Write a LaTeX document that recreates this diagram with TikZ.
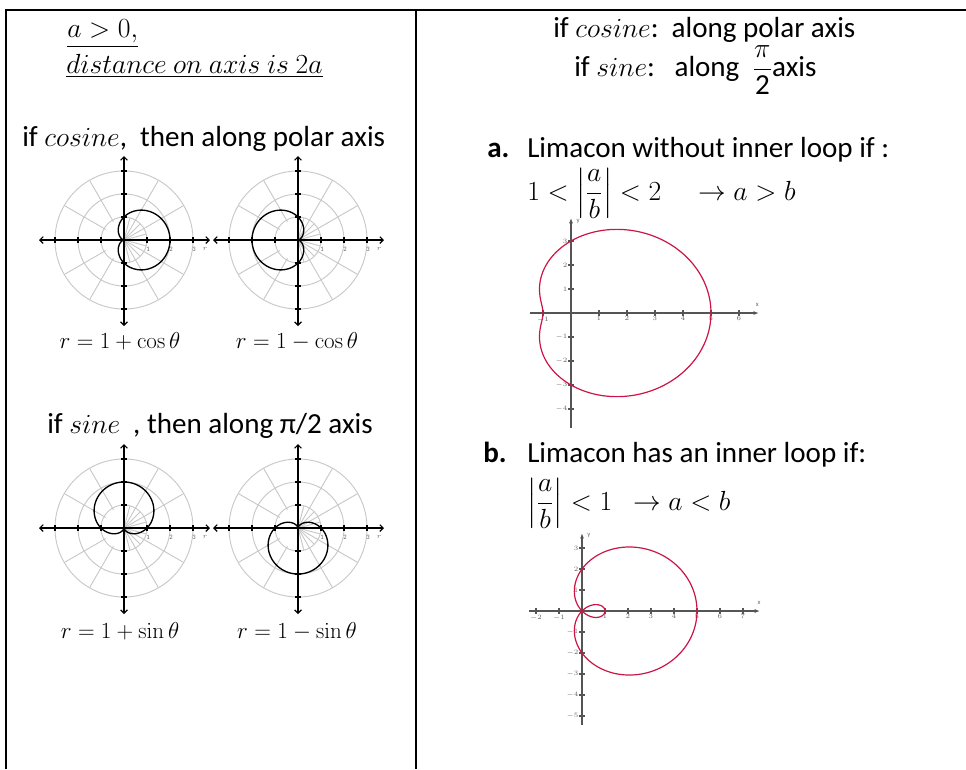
\documentclass[tikz,border=0pt]{standalone}
\usepackage[no-math]{fontspec}
\setmainfont{Carlito}
\usepackage{amsmath}
\usetikzlibrary{arrows.meta}
\definecolor{limc}{RGB}{204,20,70}
\definecolor{gridc}{RGB}{200,200,200}
\definecolor{axc}{RGB}{85,85,85}
\tikzset{
  body/.style={font=\fontsize{21.8}{26}\selectfont, inner sep=0pt, anchor=base west},
  headmath/.style={font=\fontsize{21.8}{26}\selectfont, inner sep=0pt, anchor=base west},
  caption/.style={font=\fontsize{18.3}{21}\selectfont, inner sep=0pt, anchor=base},
  gridline/.style={draw=gridc, line width=0.7pt},
  paxis/.style={draw=black, line width=0.9pt, {Straight Barb[length=2.5pt,width=5pt]}-{Straight Barb[length=2.5pt,width=5pt]}},
  ptick/.style={draw=black, line width=0.9pt},
  curveline/.style={draw=black, line width=1pt},
  tinylab/.style={font=\fontsize{5}{6}\selectfont, text=black!60, inner sep=0.5pt},
  raxis/.style={draw=axc, line width=0.9pt},
  rarrow/.style={raxis, -{Latex[length=4pt,width=3pt]}},
  limacon/.style={draw=limc, line width=0.9pt},
  frameline/.style={draw=black, line width=1.6pt},
}
\newcommand\polgrid{%
  \foreach \r in {1,2,3} \draw[gridline] (0,0) circle (\r*23);
  \foreach \a in {120,150,210,240} \draw[gridline] (\a:21) -- (\a:69);
  \foreach \a in {-60,-30,30,60} \draw[gridline] (0,0) -- (\a:69);
  \foreach \a in {-75,-45,-15,15,45,75} \draw[gridline] (0,0) -- (\a:23);
  \draw[paxis] (-85,0) -- (86,0);
  \draw[paxis] (0,-86) -- (0,84);
  \foreach \k in {-3,-2,-1,1,2,3} {
    \draw[ptick] (\k*23,-3) -- (\k*23,3);
    \draw[ptick] (-3,\k*23) -- (3,\k*23);
  }
  \foreach \k in {1,2,3} \node[tinylab] at (\k*23+1,-9) {\k};
  \node[tinylab] at (81,-9) {$r$};
}
\begin{document}
\begin{tikzpicture}[x=0.75pt,y=-0.75pt]
\useasboundingbox (0,0) rectangle (966,769);
% table frame
\draw[frameline] (6,769) -- (6,10) -- (966,10);
\draw[frameline] (416,10) -- (416,769);

% left column text
\node[headmath] (h1) at (67,37) {\underline{$a>0,$}};
\node[headmath] (h2) at (66,73) {\underline{$distance\ on\ axis\ is\ 2a$}};
\node[body] (c1) at (22,146) {if $cosine$,\ \ then along polar axis};
\node[body] (s1) at (47,433) {if $sine$\ \ , then along π/2 axis};

% polar plots
\begin{scope}[shift={(124,240)}, yscale=-1]
  \polgrid
  \draw[curveline] plot[domain=0:360, samples=181] (\x:{23*(1+cos(\x))});
\end{scope}
\begin{scope}[shift={(298,240)}, yscale=-1]
  \polgrid
  \draw[curveline] plot[domain=0:360, samples=181] (\x:{23*(1-cos(\x))});
\end{scope}
\begin{scope}[shift={(124,528)}, yscale=-1]
  \polgrid
  \draw[curveline] plot[domain=0:360, samples=181] (\x:{23*(1+sin(\x))});
\end{scope}
\begin{scope}[shift={(298,528)}, yscale=-1]
  \polgrid
  \draw[curveline] plot[domain=0:360, samples=181] (\x:{23*(1-sin(\x))});
\end{scope}

\node[caption] (l1) at (120,348) {$r=1+\cos\theta$};
\node[caption] (l2) at (297,348) {$r=1-\cos\theta$};
\node[caption] (l3) at (120,638) {$r=1+\sin\theta$};
\node[caption] (l4) at (297,638) {$r=1-\sin\theta$};

% right column text
\node[body] (r1) at (553,37) {if $cosine$:\ \ along polar axis};
\node[body] (r2) at (574,76) {if $sine$:\ \ \ along\ \ $\dfrac{\pi}{\text{2}}$axis};
\node[body] (ta) at (487,157) {\textbf{a.}};
\node[body] (la) at (527,157) {Limacon without inner loop if :};
\node[body] (fa) at (527,200) {$1<\left|\dfrac{a}{b}\right|<2\quad\to a>b$};
\node[body] (tb) at (483,462) {\textbf{b.}};
\node[body] (lb) at (527,462) {Limacon has an inner loop if:};
\node[body] (fb) at (527,510) {$\left|\dfrac{a}{b}\right|<1\ \ \to a<b$};

% graph a: r = 3 + 2 cos theta
\begin{scope}[shift={(571,313)}, x=21pt, y=18pt]
  \draw[rarrow] (-1.46,0) -- (6.71,0);
  \draw[rarrow] (0,-4.79) -- (0,3.96);
  \foreach \k in {-1,1,2,3,4,5,6} {
    \draw[raxis] (\k,0) ++(0pt,-2.2pt) -- ++(0pt,4.4pt);
    \node[tinylab, below=2pt] at (\k,0) {$\k$};
  }
  \foreach \k in {-4,-3,-2,-1,1,2,3} {
    \draw[raxis] (0,\k) ++(-2.2pt,0pt) -- ++(4.4pt,0pt);
    \node[tinylab, left=2pt] at (0,\k) {$\k$};
  }
  \node[tinylab] at (6.65,0.35) {x};
  \node[tinylab] at (0.25,3.8) {y};
  \draw[limacon] plot[domain=0:360, samples=240, smooth] (\x:{3+2*cos(\x)});
\end{scope}

% graph b: r = 2 + 3 cos theta
\begin{scope}[shift={(582,611)}, x=17.25pt, y=15.75pt]
  \draw[rarrow] (-2.3,0) -- (7.74,0);
  \draw[rarrow] (0,-5.43) -- (0,3.71);
  \foreach \k in {-2,-1,1,2,3,4,5,6,7} {
    \draw[raxis] (\k,0) ++(0pt,-2.2pt) -- ++(0pt,4.4pt);
    \node[tinylab, below=2pt] at (\k,0) {$\k$};
  }
  \foreach \k in {-5,-4,-3,-2,-1,1,2,3} {
    \draw[raxis] (0,\k) ++(-2.2pt,0pt) -- ++(4.4pt,0pt);
    \node[tinylab, left=2pt] at (0,\k) {$\k$};
  }
  \node[tinylab] at (7.7,0.4) {x};
  \node[tinylab] at (0.3,3.6) {y};
  \draw[limacon] plot[domain=0:360, samples=300, smooth] (\x:{2+3*cos(\x)});
\end{scope}
\end{tikzpicture}
\end{document}
